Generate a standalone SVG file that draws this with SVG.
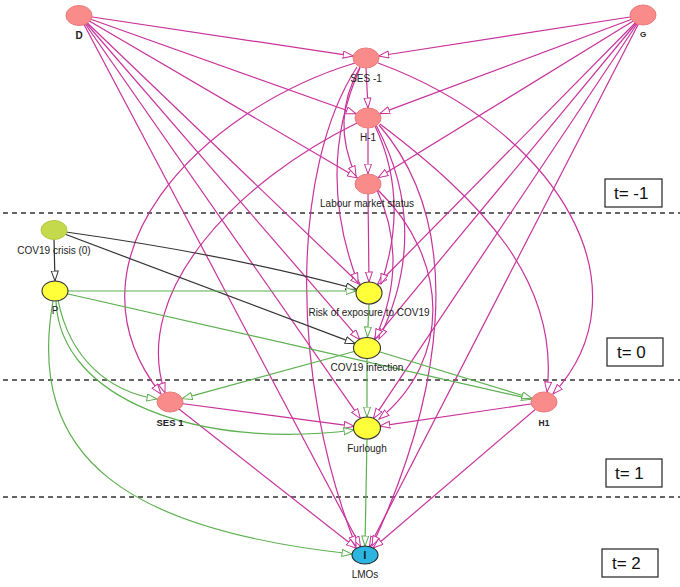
<svg xmlns="http://www.w3.org/2000/svg" width="680" height="587" viewBox="0 0 680 587">
<defs>
<style>
.pk{fill:none;stroke:#c8329b;stroke-width:1.2;marker-end:url(#ap)}
.gr{fill:none;stroke:#5cb04f;stroke-width:1.2;marker-end:url(#ag)}
.bk{fill:none;stroke:#333;stroke-width:1.2;marker-end:url(#ab)}
.sal{fill:#f98b8b;stroke:#ec7a7a;stroke-width:1}
.yel{fill:#ffff3a;stroke:#333;stroke-width:1.1}
.lab{font-family:"Liberation Sans",Arial,sans-serif;font-size:10px;fill:#222;text-anchor:middle}
.tb{fill:#fff;stroke:#222;stroke-width:1.2}
.tt{font-family:"Liberation Sans",Arial,sans-serif;font-size:17px;fill:#111}
.dash{stroke:#333;stroke-width:1.3;stroke-dasharray:5,4}
</style>
<marker id="ap" markerUnits="userSpaceOnUse" markerWidth="12" markerHeight="9" refX="10.5" refY="4" orient="auto"><path d="M0.5,0.5 L10.5,4 L0.5,7.5 z" fill="#fff" stroke="#c8329b" stroke-width="1"/></marker>
<marker id="ag" markerUnits="userSpaceOnUse" markerWidth="12" markerHeight="9" refX="10.5" refY="4" orient="auto"><path d="M0.5,0.5 L10.5,4 L0.5,7.5 z" fill="#fff" stroke="#5cb04f" stroke-width="1"/></marker>
<marker id="ab" markerUnits="userSpaceOnUse" markerWidth="12" markerHeight="9" refX="10.5" refY="4" orient="auto"><path d="M0.5,0.5 L10.5,4 L0.5,7.5 z" fill="#fff" stroke="#333" stroke-width="1"/></marker>
</defs>
<rect width="680" height="587" fill="#fff"/>
<g id="timebands">
<line class="dash" x1="3" y1="213" x2="680" y2="213"/>
<line class="dash" x1="3" y1="380" x2="680" y2="380"/>
<line class="dash" x1="3" y1="497" x2="680" y2="497"/>
<rect class="tb" x="605" y="179" width="57" height="28"/><text class="tt" x="614" y="199">t= -1</text>
<rect class="tb" x="607" y="338" width="56" height="28"/><text class="tt" x="617" y="358">t= 0</text>
<rect class="tb" x="606" y="459" width="56" height="28"/><text class="tt" x="615" y="479">t= 1</text>
<rect class="tb" x="602" y="549" width="56" height="28"/><text class="tt" x="612" y="569">t= 2</text>
</g>
<g id="connectors">
<!-- D -->
<path class="pk" d="M79,15 L353.2,56.1"/>
<path class="pk" d="M79,15 L356.2,113.8"/>
<path class="pk" d="M79,15 L357.6,177.9"/>
<path class="pk" d="M79,15 L360.4,284.8"/>
<path class="pk" d="M79,15 L359.8,339.7"/>
<path class="pk" d="M79,15 L360.4,418.6"/>
<path class="pk" d="M79,15 L360.5,546.5"/>
<!-- G -->
<path class="pk" d="M643,15 L378.7,56"/>
<path class="pk" d="M643,15 L379.7,113.6"/>
<path class="pk" d="M643,15 L378.1,177.8"/>
<path class="pk" d="M643,15 L377.4,284.5"/>
<path class="pk" d="M643,15 L374,339.6"/>
<path class="pk" d="M643,15 L373.4,418.4"/>
<path class="pk" d="M643,15 L369.4,546.6"/>
<!-- t=-1 chain -->
<path class="pk" d="M366,68 L368,108"/>
<path class="pk" d="M368,128 L368,174"/>
<path class="pk" d="M368,194 L369,282"/>
<path class="pk" d="M360,67 Q330,120 356,176"/>
<path class="pk" d="M360,68 Q315,170 358,283"/>
<path class="pk" d="M357,67 C290,170 290,380 356,546"/>
<path class="pk" d="M375,126 Q410,200 381,284"/>
<path class="pk" d="M376,125 Q432,230 379,339"/>
<path class="pk" d="M377,190 Q410,262 375,339"/>
<path class="pk" d="M378,190 C450,260 452,360 379,419"/>
<path class="pk" d="M379,125 C470,230 440,400 372,546"/>
<!-- arcs to SES 1 / H1 -->
<path class="pk" d="M355,63 C200,110 55,260 161,394"/>
<path class="pk" d="M357,123 C240,180 130,290 165,393"/>
<path class="pk" d="M378,63 C560,130 650,290 553,394"/>
<path class="pk" d="M380,124 C480,200 560,280 547,392"/>
<!-- t=1 -->
<path class="pk" d="M170,402 L354.2,426.3"/>
<path class="pk" d="M170,402 L356.4,548.3"/>
<path class="pk" d="M544,402 L379.8,426.1"/>
<path class="pk" d="M544,402 L373.2,548"/>
<!-- black -->
<path class="bk" d="M54,239 L55,281"/>
<path class="bk" d="M66,232 Q230,255 356,289"/>
<path class="bk" d="M54,230 L355.3,343.6"/>
<!-- green -->
<path class="gr" d="M55,291 L356,291"/>
<path class="gr" d="M55,291 L531.5,399.2"/>
<path class="gr" d="M369,304 L367.5,337"/>
<path class="gr" d="M367,348 L531.9,398.3"/>
<path class="gr" d="M367,348 L182.1,398.7"/>
<path class="gr" d="M367,358 L367,417"/>
<path class="gr" d="M367,439 L365,546"/>
<path class="gr" d="M58,300 C70,360 110,392 157,399"/>
<path class="gr" d="M56,301 C60,400 200,450 354,430"/>
<path class="gr" d="M53,301 C25,460 130,530 352,554"/>
</g>
<g id="node-D"><ellipse class="sal" cx="79" cy="15.5" rx="13" ry="10"/><text class="lab" x="79" y="39" style="font-weight:bold">D</text></g>
<g id="node-G"><ellipse class="sal" cx="643" cy="15" rx="13" ry="10"/><text class="lab" x="643" y="37" style="font-size:8px;font-weight:bold">G</text></g>
<g id="node-SESm1"><ellipse class="sal" cx="366" cy="58" rx="13" ry="10"/><text class="lab" x="366" y="82">SES -1</text></g>
<g id="node-Hm1"><ellipse class="sal" cx="368" cy="118" rx="13" ry="10"/><text class="lab" x="368" y="141">H-1</text></g>
<g id="node-LMS"><ellipse class="sal" cx="368" cy="184" rx="13" ry="10"/><text class="lab" x="367" y="207">Labour market status</text></g>
<g id="node-crisis"><ellipse cx="54" cy="230" rx="13" ry="9.5" fill="#c4d94c" stroke="#b5c944" stroke-width="1"/><text class="lab" x="54" y="254">COV19 crisis (0)</text></g>
<g id="node-P"><ellipse class="yel" cx="55" cy="291" rx="13" ry="10"/><text class="lab" x="55" y="314">P</text></g>
<g id="node-risk"><ellipse class="yel" cx="369" cy="293" rx="13" ry="11"/><text class="lab" x="369" y="316">Risk of exposure to COV19</text></g>
<g id="node-infection"><ellipse class="yel" cx="367" cy="348" rx="13.5" ry="10.5"/><text class="lab" x="367" y="371">COV19 infection</text></g>
<g id="node-SES1"><ellipse class="sal" cx="170" cy="402" rx="13" ry="10"/><text class="lab" x="170" y="426" style="font-weight:bold;font-size:9.5px">SES 1</text></g>
<g id="node-H1"><ellipse class="sal" cx="544" cy="402" rx="13" ry="10"/><text class="lab" x="544" y="426" style="font-size:8.5px;font-weight:bold">H1</text></g>
<g id="node-furlough"><ellipse class="yel" cx="367" cy="428" rx="13.5" ry="11"/><text class="lab" x="367" y="452">Furlough</text></g>
<g id="node-LMOs"><ellipse cx="365" cy="555" rx="13" ry="9" fill="#2bb5e0" stroke="#222" stroke-width="1.1"/><text class="lab" x="365" y="559" style="font-weight:bold;font-size:10px;fill:#111">I</text><text class="lab" x="365" y="578">LMOs</text></g>
</svg>
